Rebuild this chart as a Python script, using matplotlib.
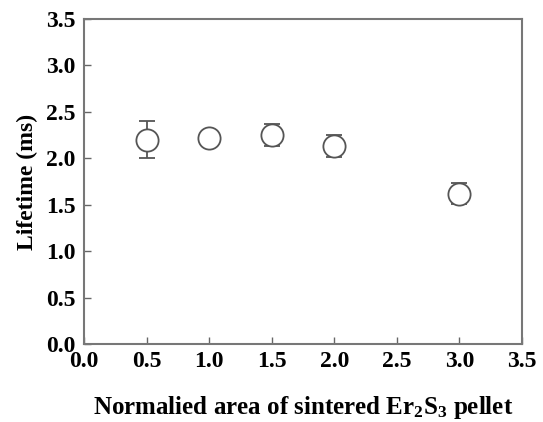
import matplotlib
matplotlib.use("Agg")
import matplotlib.pyplot as plt

area = [0.5, 1.0, 1.5, 2.0, 3.0]
lifetime = [2.20, 2.22, 2.25, 2.13, 1.62]
err = [0.20, 0.04, 0.12, 0.12, 0.11]
ticks = [0.0, 0.5, 1.0, 1.5, 2.0, 2.5, 3.0, 3.5]

plt.rcParams['font.family'] = ['Liberation Serif', 'DejaVu Serif']
plt.rcParams['mathtext.fontset'] = 'custom'
plt.rcParams['mathtext.rm'] = 'Liberation Serif:weight=bold'
plt.rcParams['mathtext.bf'] = 'Liberation Serif:weight=bold'
plt.rcParams['mathtext.it'] = 'Liberation Serif:weight=bold'

fig = plt.figure(figsize=(5.43, 4.22), dpi=100)
ax = fig.add_axes([84/543, 1-344/422, (522-84)/543, (344-19)/422])
ax.errorbar(area, lifetime, yerr=err, fmt='o', mfc='white', mec='#555555', ms=16,
            mew=1.3, ecolor='#555555', elinewidth=1.3, capsize=6, capthick=1.3)
ax.set_xlim(0, 3.5)
ax.set_ylim(0, 3.5)
ax.set_xticks(ticks)
ax.set_yticks(ticks)
ax.set_xticklabels([f"{t:.1f}" for t in ticks], fontsize=17, fontweight='bold')
ax.set_yticklabels([f"{t:.1f}" for t in ticks], fontsize=17, fontweight='bold')
ax.tick_params(direction='in', length=5, width=1, color='#666666', top=False, right=False)
ax.tick_params(axis='x', pad=5)
ax.tick_params(axis='y', pad=6)
for s in ax.spines.values():
    s.set_color('#777777')
    s.set_linewidth(1.5)
ax.set_xlabel(r'Normalied area of sintered Er$_\mathrm{2}$S$_\mathrm{3}$ pellet',
              fontsize=18, fontweight='bold', labelpad=16)
ax.set_ylabel('Lifetime (ms)', fontsize=17, fontweight='bold', labelpad=6)
fig.savefig('out.png', dpi=100)
